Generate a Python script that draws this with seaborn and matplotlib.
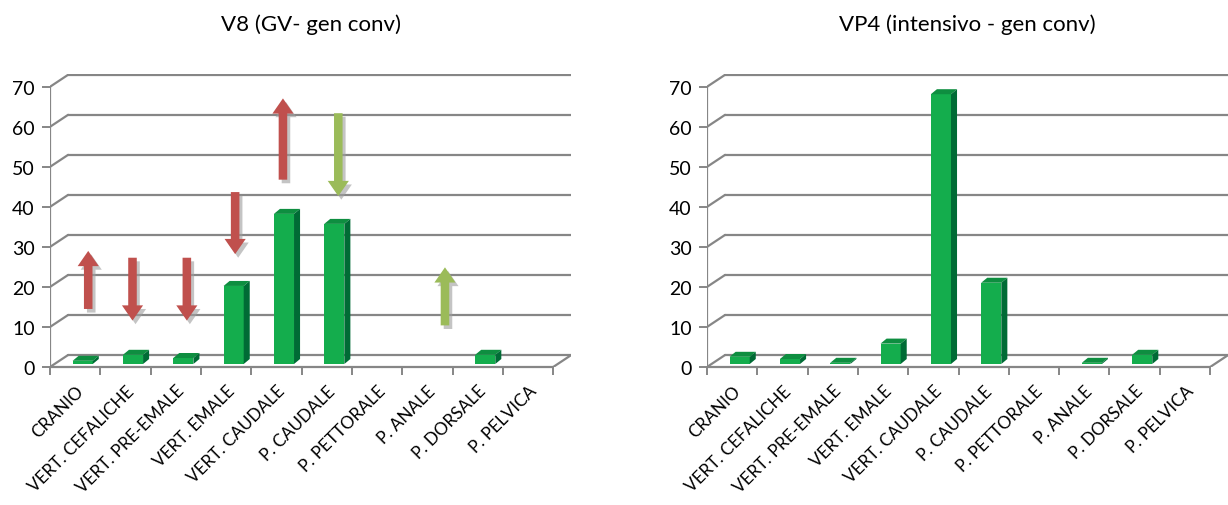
import numpy as np
import matplotlib.pyplot as plt
import seaborn as sns
from matplotlib.patches import Polygon, FancyArrow

# ---- dati ----
categorie = ["CRANIO", "VERT. CEFALICHE", "VERT. PRE-EMALE", "VERT. EMALE", "VERT. CAUDALE",
             "P. CAUDALE", "P. PETTORALE", "P. ANALE", "P. DORSALE", "P. PELVICA"]
v8 = [0.8, 2.3, 1.5, 19.5, 37.5, 35.0, 0, 0, 2.3, 0]
vp4 = [1.8, 1.25, 0.3, 5.1, 67.4, 20.3, 0, 0.3, 2.3, 0]
yticks = [0, 10, 20, 30, 40, 50, 60, 70]

# frecce sul grafico V8
frecce_x = [0.26, 1.14, 2.22, 3.18, 4.13, 5.23, 7.35]
frecce_da = [14.5, 27.3, 27.3, 43.7, 46.8, 63.4, 10.4]
frecce_a = [29.0, 11.6, 11.6, 28.2, 67.1, 42.7, 24.9]
frecce_col = ["#C0504D"] * 5 + ["#9BBB59"] * 2

# ---- stile ----
sns.set_style("white")
plt.rcParams['font.family'] = ['Lato', 'DejaVu Sans']
plt.rcParams['text.color'] = 'black'
plt.rcParams['xtick.labelcolor'] = 'black'
plt.rcParams['ytick.labelcolor'] = 'black'

GRIGIO = "#868686"
VERDE = "#14AD4D"
VERDE_LATO = "#006B35"
VERDE_TOP = "#0E8E40"
DX, DY = 0.36, 3.0      # profondita' della parete di fondo
BDX, BDY = 0.12, 1.25   # profondita' delle barre
SHIFT, BASE = 0.15, 0.75


def pannello(ax, valori, titolo):
    n = len(categorie)
    sns.barplot(x=categorie, y=valori, ax=ax, color=VERDE, width=0.4,
                saturation=1, edgecolor="none", zorder=3)
    for p, v in zip(ax.patches, valori):
        p.set_x(p.get_x() + SHIFT)
        p.set_y(BASE)
        if v <= 0:
            p.set_visible(False)
            continue
        x0, w = p.get_x(), p.get_width()
        y1 = BASE + v
        ax.add_patch(Polygon([(x0, y1), (x0 + w, y1), (x0 + w + BDX, y1 + BDY), (x0 + BDX, y1 + BDY)],
                             closed=True, fc=VERDE_TOP, ec="none", zorder=3))
        ax.add_patch(Polygon([(x0 + w, BASE), (x0 + w + BDX, BASE + BDY), (x0 + w + BDX, y1 + BDY), (x0 + w, y1)],
                             closed=True, fc=VERDE_LATO, ec="none", zorder=3))

    # griglia sul fondo + diagonali
    left, right = -0.5, n - 0.5
    for t in yticks:
        ax.plot([left + DX, right + DX], [t + DY, t + DY], color=GRIGIO, lw=1.6, zorder=1)
        ax.plot([left, left + DX], [t, t + DY], color=GRIGIO, lw=1.6, zorder=1)
    ax.plot([left, left], [0, yticks[-1]], color=GRIGIO, lw=1.6, zorder=1)
    ax.plot([left, right], [0, 0], color=GRIGIO, lw=1.6, zorder=1, clip_on=False)
    ax.plot([right, right + DX], [0, DY], color=GRIGIO, lw=1.6, zorder=1)

    ax.set_xlim(left, right + DX)
    ax.set_ylim(0, 73.2)
    ax.set_yticks(yticks)
    ax.set_xticks(range(n))
    ax.set_xticklabels(categorie, rotation=45, ha="right", rotation_mode="anchor", fontsize=12.3)
    ax.set_xticks(np.arange(left, right + 0.1, 1), minor=True)
    ax.tick_params(axis="x", which="major", length=0, pad=11)
    ax.tick_params(axis="x", which="minor", length=6, width=1.4, color=GRIGIO, direction="out", bottom=True)
    ax.tick_params(axis="y", length=6, width=1.4, color=GRIGIO, labelsize=14, pad=5, left=True)
    ax.set_xlabel("")
    for s in ax.spines.values():
        s.set_visible(False)
    ax.set_facecolor("none")
    ax.figure.text(ax.get_position().x0 + ax.get_position().width / 2, 0.952, titolo,
                   ha="center", va="center", fontsize=16)


fig = plt.figure(figsize=(12.28, 5.06), dpi=100)
ax1 = fig.add_axes([0.0407, 0.2727, 0.4245, 0.5791])
ax2 = fig.add_axes([0.5757, 0.2727, 0.4245, 0.5791])

pannello(ax1, v8, "V8 (GV- gen conv)")
pannello(ax2, vp4, "VP4 (intensivo - gen conv)")

# frecce con ombra
for x, a, b, c in zip(frecce_x, frecce_da, frecce_a, frecce_col):
    kw = dict(width=0.17, head_width=0.42, head_length=3.8, length_includes_head=True, ec="none")
    ax1.add_patch(FancyArrow(x + 0.06, a - 0.9, 0, b - a, fc="#9E9E9E", alpha=0.6, zorder=4, **kw))
    ax1.add_patch(FancyArrow(x, a, 0, b - a, fc=c, zorder=5, **kw))

fig.savefig("out.png", dpi=100)
